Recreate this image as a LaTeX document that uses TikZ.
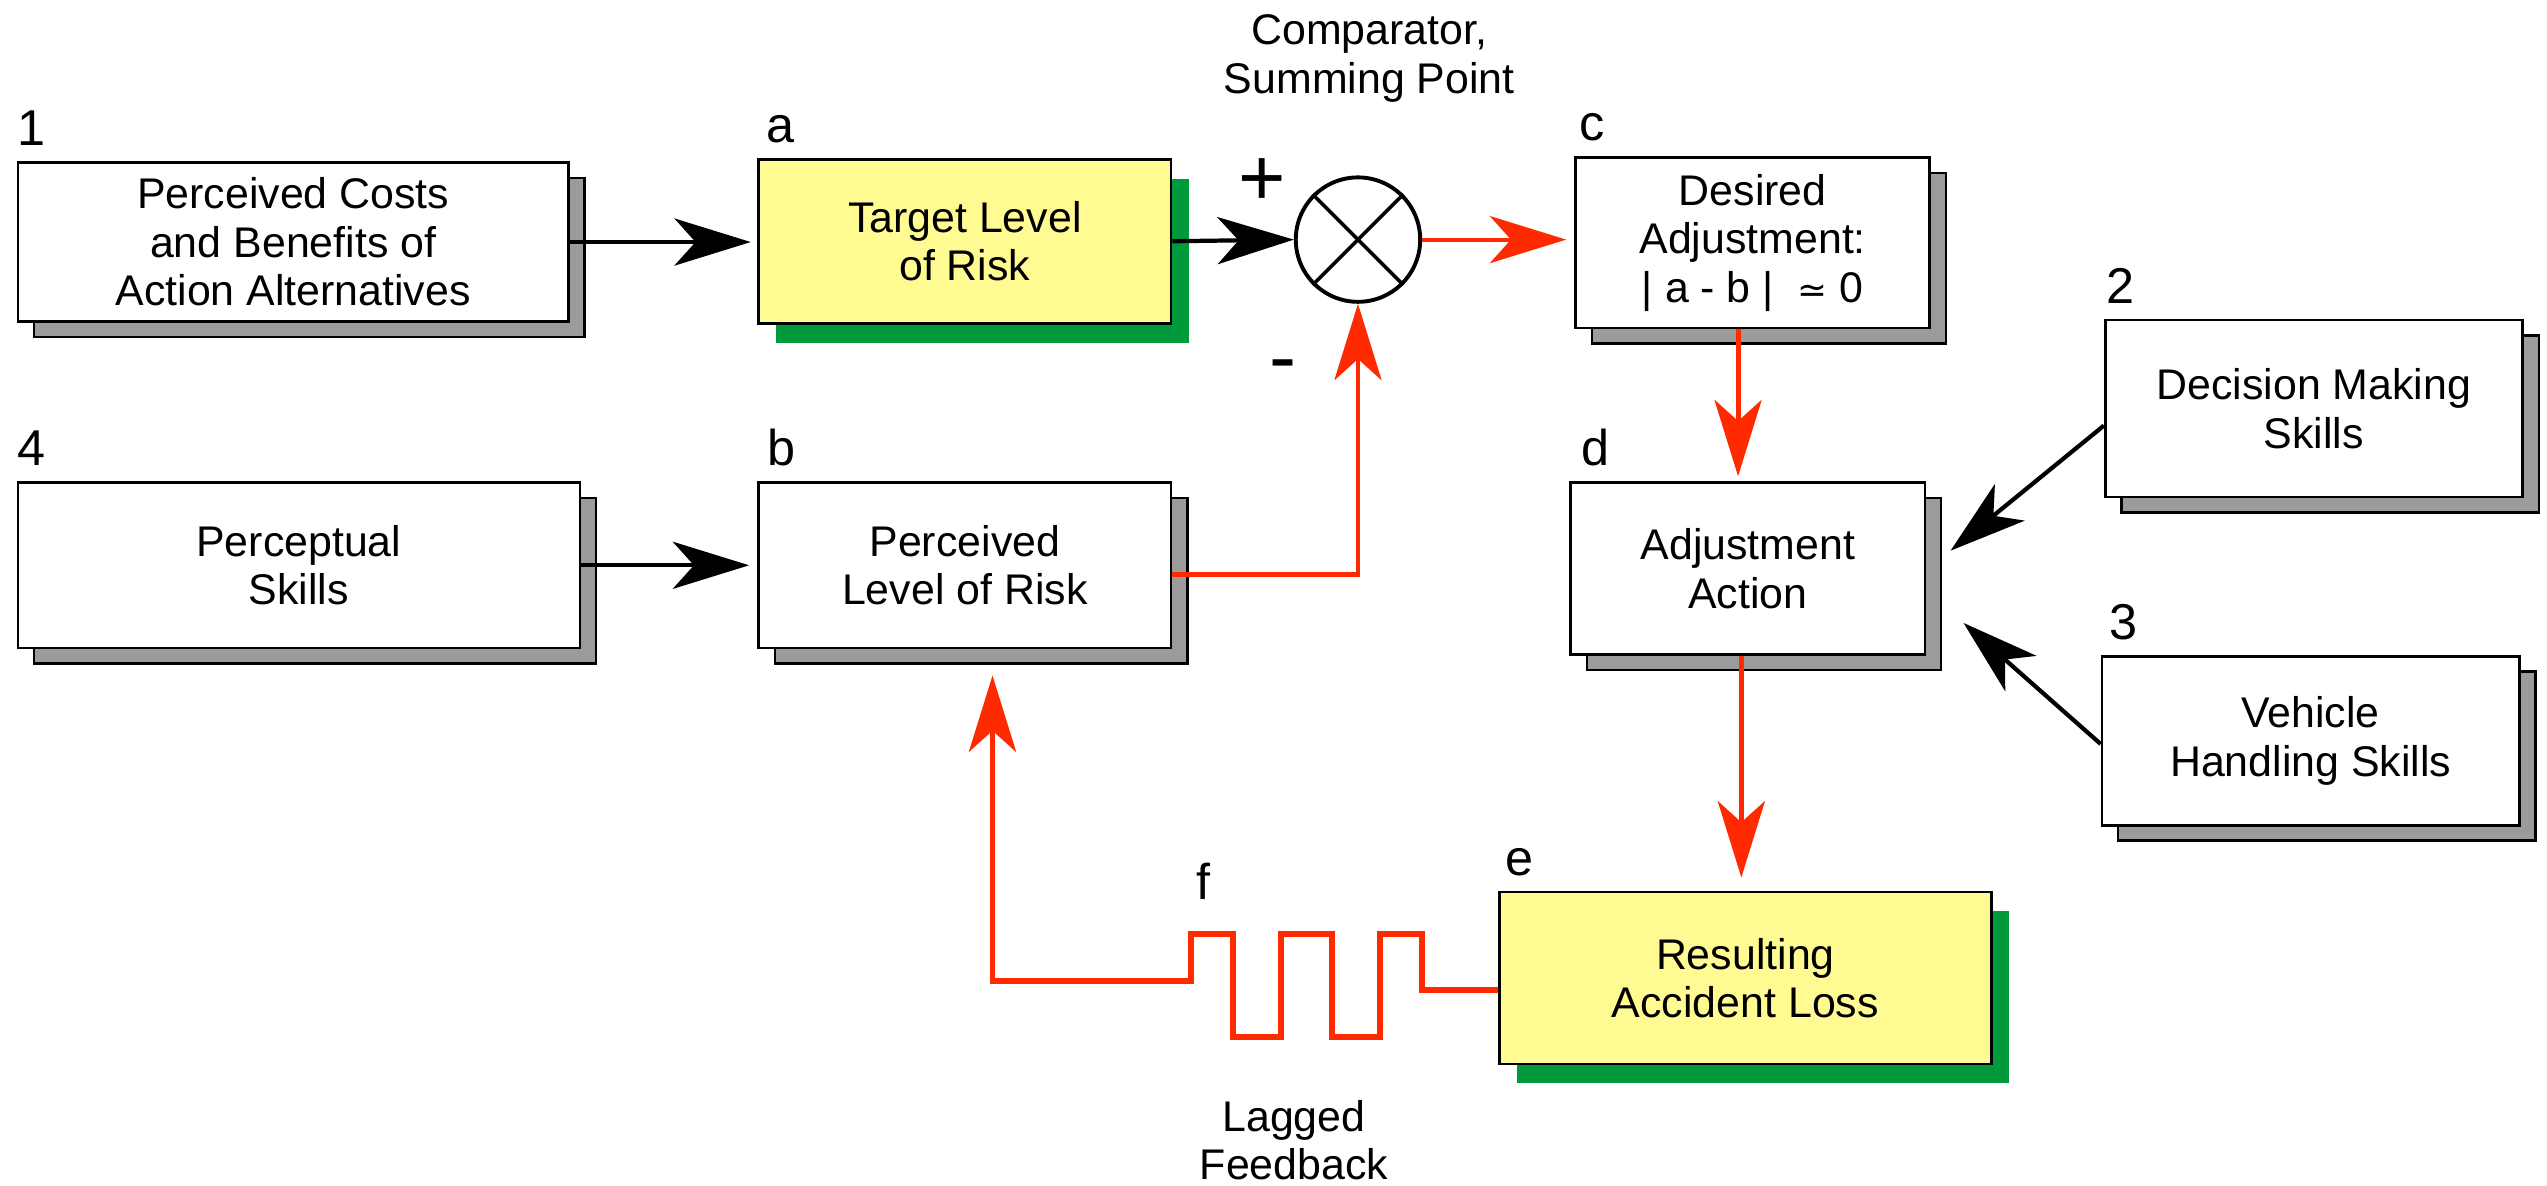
\documentclass[tikz,border=0pt]{standalone}
\usepackage{fontspec}
\setmainfont{Liberation Sans}
\newfontfamily\dvsymfont{DejaVu Sans}
\usetikzlibrary{arrows.meta,shadows,calc}
\definecolor{boxyellow}{RGB}{255,250,145}
\definecolor{shadowgreen}{RGB}{0,153,60}
\definecolor{fbred}{RGB}{255,42,0}
\definecolor{shadowgray}{RGB}{155,155,155}
\newcommand\dfboxfont{\fontsize{13.2}{14.9}\selectfont}
\newcommand\dflblfont{\fontsize{15.5}{18}\selectfont}
\newcommand\dfsignfont{\fontsize{25}{28}\selectfont}
\begin{document}
\begin{tikzpicture}[x=0.5pt,y=-0.5pt,
  boxbase/.style={draw=black, line width=0.8pt, align=center, inner sep=0pt, font=\dfboxfont},
  wbox/.style={boxbase, fill=white, copy shadow={shadow xshift=5pt, shadow yshift=-4.75pt, fill=shadowgray, draw=black, line width=0.8pt}},
  ybox/.style={boxbase, fill=boxyellow, copy shadow={shadow xshift=5.5pt, shadow yshift=-6pt, fill=shadowgreen, draw=none}},
  lbl/.style={font=\dflblfont, inner sep=0pt, anchor=base west},
  sign/.style={font=\dfsignfont, inner sep=0pt},
  freetext/.style={font=\dfboxfont, align=center, inner sep=0pt, anchor=north},
  tipshape/.style={-{Stealth[length=23.5pt, width=14.5pt, inset=6.5pt]}},
  blk/.style={draw=black, line width=1.3pt, tipshape},
  redarr/.style={draw=fbred, color=fbred, line width=1.5pt, tipshape},
]
\useasboundingbox (0,0) rectangle (1568,730);

% boxes
\node[wbox, minimum width=169.5pt, minimum height=49pt] (n1) at (180.5,149) {Perceived Costs\\and Benefits of\\Action Alternatives};
\node[ybox, minimum width=127pt, minimum height=50.5pt] (a) at (594,148.5) {Target Level\\of Risk};
\node[wbox, minimum width=109pt, minimum height=52.5pt] (c) at (1079,149.5) {Desired\\Adjustment:\\| a - b |~~{\dvsymfont\fontsize{11}{13}\selectfont ≃} 0};
\node[wbox, minimum width=173pt, minimum height=51pt] (n4) at (184,348) {Perceptual\\Skills};
\node[wbox, minimum width=127pt, minimum height=51pt] (b) at (594,348) {Perceived\\Level of Risk};
\node[wbox, minimum width=109pt, minimum height=53pt] (d) at (1076,350) {Adjustment\\Action};
\node[wbox, minimum width=128.5pt, minimum height=54.5pt] (n2) at (1424.5,251.5) {Decision Making\\Skills};
\node[wbox, minimum width=128.5pt, minimum height=52pt] (n3) at (1422.5,456) {Vehicle\\Handling Skills};
\node[ybox, minimum width=151.5pt, minimum height=53pt] (e) at (1074.5,602) {Resulting\\Accident Loss};

% comparator
\node[circle, draw=black, fill=white, line width=1.2pt, minimum size=38.3pt, inner sep=0pt] (comp) at (836,147.5) {};
\draw[line width=1.1pt] (comp.45) -- (comp.225) (comp.135) -- (comp.315);

% labels
\node[lbl] (l1) at ($(n1.north west)+(0,-9.5)$) {1};
\node[lbl] (la) at ($(a.north west)+(5,-9.5)$) {a};
\node[lbl] (lc) at ($(c.north west)+(3,-9.5)$) {c};
\node[lbl] (l4) at ($(n4.north west)+(0,-9.5)$) {4};
\node[lbl] (lb) at ($(b.north west)+(6,-9.5)$) {b};
\node[lbl] (ld) at ($(d.north west)+(7,-9.5)$) {d};
\node[lbl] (l2) at ($(n2.north west)+(1,-9.5)$) {2};
\node[lbl] (l3) at ($(n3.north west)+(5,-9.5)$) {3};
\node[lbl] (le) at ($(e.north west)+(4,-9.5)$) {e};
\node[font=\dflblfont, inner sep=0pt, anchor=base] (f) at (741,554) {f};

\node[sign] (plus) at (777,112) {+};
\node[sign] (minus) at (790,229) {-};

\node[freetext] (cmp) at (843,8.8) {Comparator,\\Summing Point};
\node[freetext] (lag) at (796.6,677) {Lagged\\Feedback};

% connectors
\coordinate (cdx) at (1070,0);
\coordinate (dex) at (1072,0);
\coordinate (fbx) at (611,0);
\draw[blk, shorten >=2pt] (n1.east) -- (n1.east -| a.west);
\draw[blk, shorten >=2.5pt] (n4.east) -- (n4.east -| b.west);
\draw[blk] (a.east) -- (comp.west);
\draw[redarr, line width=1.2pt, shorten >=2.5pt] (comp.east) -- (comp.east -| c.west);
\draw[redarr] ($(b.east)+(0,5.4)$) -| (comp.south);
\draw[redarr, shorten >=1.5pt] (c.south -| cdx) -- (d.north -| cdx);
\draw[redarr, shorten >=4pt] (d.south -| dex) -- (e.north -| dex);
\draw[blk] ($(n2.west)+(0,10.5)$) -- ($(d.east)+(15,-11)$);
\draw[blk] ($(n3.west)+(0,2)$) -- ($(d.east)+(23,33.5)$);
\draw[redarr, line width=1.8pt] ($(e.west)+(0,7.5)$) -- (875.5,609.5) -- (875.5,575) -- (849.5,575)
  -- (849.5,638.5) -- (820,638.5) -- (820,575) -- (788.6,575) -- (788.6,638.5) -- (759,638.5)
  -- (759,575) -- (733,575) -- (733,604) -- (611,604) -- ($(b.south -| fbx)+(0,16)$);
\end{tikzpicture}
\end{document}
